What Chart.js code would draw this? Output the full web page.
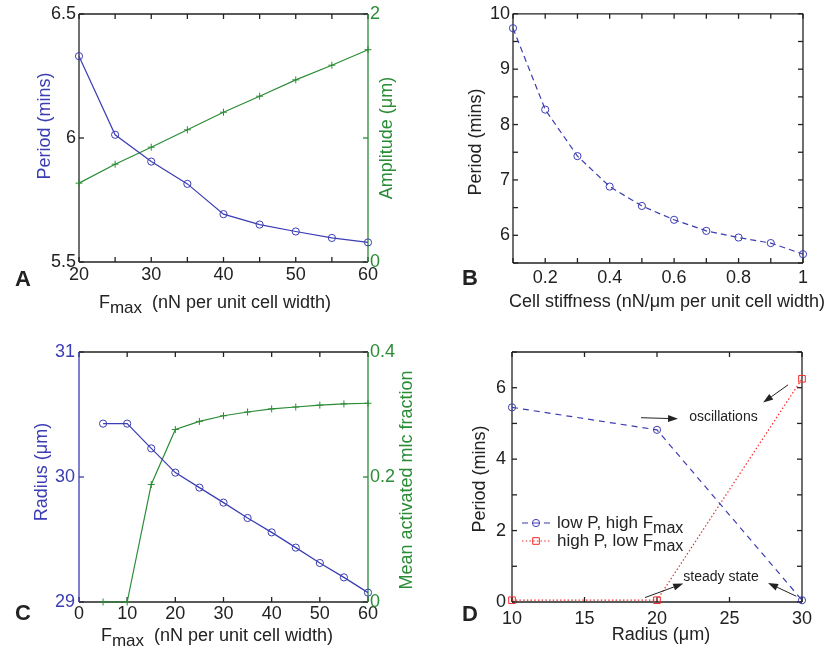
<!DOCTYPE html>
<html>
<head>
<meta charset="utf-8">
<script src="https://cdn.jsdelivr.net/npm/chart.js@4.4.0/dist/chart.umd.min.js"></script>
<style>
  html, body { margin: 0; padding: 0; background: #fff; }
  #fig { position: relative; width: 831px; height: 648px; }
  #fig canvas { position: absolute; left: 0; top: 0; }
</style>
</head>
<body>
<div id="fig">
  <canvas id="chartA" width="831" height="648"></canvas>
  <canvas id="chartB" width="831" height="648"></canvas>
  <canvas id="chartC" width="831" height="648"></canvas>
  <canvas id="chartD" width="831" height="648"></canvas>
</div>
<script>
// panel A: period & amplitude vs Fmax
const fmaxA = [20, 25, 30, 35, 40, 45, 50, 55, 60];
const periodA = [6.33, 6.013, 5.905, 5.815, 5.693, 5.651, 5.623, 5.597, 5.579];
const amplitudeA = [0.636, 0.789, 0.926, 1.066, 1.208, 1.337, 1.469, 1.587, 1.712];

// panel B: period vs cell stiffness
const stiffnessB = [0.1, 0.2, 0.3, 0.4, 0.5, 0.6, 0.7, 0.8, 0.9, 1.0];
const periodB = [9.74, 8.27, 7.43, 6.88, 6.53, 6.28, 6.08, 5.96, 5.86, 5.66];

// panel C: radius & mean activated mlc fraction vs Fmax
const fmaxC = [5, 10, 15, 20, 25, 30, 35, 40, 45, 50, 55, 60];
const radiusC = [30.427, 30.427, 30.229, 30.035, 29.915, 29.795, 29.672, 29.557, 29.435, 29.312, 29.197, 29.075];
const mlcC = [0, 0, 0.188, 0.276, 0.289, 0.298, 0.304, 0.309, 0.312, 0.315, 0.317, 0.318];

// panel D: period vs radius
const radiusD = [10, 20, 30];
const periodLowP = [5.45, 4.82, 0.05];
const periodHighP = [0.05, 0.05, 6.25];
const legendD = ['low P, high F', 'high P, low F'];

// annotations of panel D, in data units (tail x, tail y, head x, head y)
const arrowsD = [
  [18.9, 5.16, 21.45, 5.13],
  [29.04, 6.08, 27.32, 5.585],
  [19.17, 0.123, 21.81, 0.516],
  [29.61, 0.16, 27.66, 0.533]
];
const notesD = [
  { text: 'oscillations', x: 22.22, y: 5.08 },
  { text: 'steady state', x: 21.81, y: 0.59 }
];

const FONT = "'Liberation Sans', Arial, Helvetica, sans-serif";
const BLUE = '#3b3db2';
const GREEN = '#2b8c36';
const RED = '#f42a2a';
const INK = '#222222';
const W = 831, H = 648;

Chart.defaults.font.family = FONT;
Chart.defaults.font.size = 18;
Chart.defaults.color = INK;

const xy = (xs, ys) => xs.map((x, i) => ({ x: x, y: ys[i] }));
const num = v => String(Math.round(v * 100) / 100);

function series(xs, ys, color, extra) {
  return Object.assign({
    data: xy(xs, ys),
    borderColor: color,
    borderWidth: 1.2,
    pointStyle: 'circle',
    pointRadius: 3.6,
    pointBorderWidth: 1,
    pointBorderColor: color,
    pointBackgroundColor: 'rgba(0,0,0,0)',
    tension: 0,
    clip: false,
    yAxisID: 'y'
  }, extra || {});
}

// box + inward tick marks, matlab style
function framePlugin(f) {
  return {
    id: 'frame',
    beforeDatasetsDraw(chart) {
      const { ctx, chartArea: a, scales } = chart;
      const len = 5;
      const seg = (x1, y1, x2, y2, c) => {
        ctx.strokeStyle = c;
        ctx.beginPath();
        ctx.moveTo(x1, y1);
        ctx.lineTo(x2, y2);
        ctx.stroke();
      };
      ctx.save();
      ctx.lineWidth = 1.3;
      scales.x.ticks.forEach(t => {
        const px = scales.x.getPixelForValue(t.value);
        seg(px, a.bottom, px, a.bottom - len, f.bottom);
        seg(px, a.top, px, a.top + len, f.top);
      });
      scales.y.ticks.forEach(t => {
        const py = scales.y.getPixelForValue(t.value);
        seg(a.left, py, a.left + len, py, f.left);
      });
      const yr = scales[f.rightScale];
      yr.ticks.forEach(t => {
        const py = yr.getPixelForValue(t.value);
        seg(a.right, py, a.right - len, py, f.right);
      });
      seg(a.left, a.top, a.right, a.top, f.top);
      seg(a.left, a.bottom, a.right, a.bottom, f.bottom);
      seg(a.left, a.top, a.left, a.bottom, f.left);
      seg(a.right, a.top, a.right, a.bottom, f.right);
      ctx.restore();
    }
  };
}

// text with optional subscript pieces: parts = [[text, isSub], ...]
function drawRich(ctx, parts, x, y, size, color, align, bold) {
  const fontOf = sub => (bold ? 'bold ' : '') + (sub ? size - 1 : size) + 'px ' + FONT;
  let total = 0;
  parts.forEach(p => { ctx.font = fontOf(p[1]); total += ctx.measureText(p[0]).width; });
  let cx = align === 'center' ? x - total / 2 : x;
  ctx.fillStyle = color;
  ctx.textAlign = 'left';
  parts.forEach(p => {
    ctx.font = fontOf(p[1]);
    ctx.fillText(p[0], cx, p[1] ? y + 5 : y);
    cx += ctx.measureText(p[0]).width;
  });
}

function textPlugin(items, extra) {
  return {
    id: 'texts',
    afterDraw(chart) {
      const ctx = chart.ctx;
      ctx.save();
      items.forEach(it => {
        ctx.save();
        ctx.textBaseline = it.base || 'alphabetic';
        ctx.translate(it.x, it.y);
        if (it.rotate) ctx.rotate(-Math.PI / 2);
        drawRich(ctx, it.parts, 0, 0, it.size || 18, it.color || INK, it.align || 'center', it.bold);
        ctx.restore();
      });
      if (extra) extra(chart, ctx);
      ctx.restore();
    }
  };
}

function axis(o, fit) {
  return {
    type: 'linear',
    position: o.position,
    min: o.min,
    max: o.max,
    grid: { display: false, drawTicks: false },
    border: { display: false },
    ticks: {
      stepSize: o.step,
      autoSkip: false,
      maxRotation: 0,
      padding: o.pad,
      color: o.color || INK,
      font: { size: 18 },
      callback: o.label || num
    },
    afterFit: fit
  };
}

function build(id, area, spec) {
  const scales = {
    x: axis(Object.assign({ position: 'bottom' }, spec.x), s => { s.height = H - area.bottom; }),
    y: axis(Object.assign({ position: 'left' }, spec.y), s => { s.width = area.left; })
  };
  if (spec.y2) {
    scales.y2 = axis(Object.assign({ position: 'right' }, spec.y2), s => { s.width = W - area.right; });
  }
  return new Chart(document.getElementById(id), {
    type: 'line',
    data: { datasets: spec.datasets },
    options: {
      responsive: false,
      animation: false,
      devicePixelRatio: 1,
      events: [],
      layout: { padding: { left: 0, top: area.top, right: spec.y2 ? 0 : W - area.right, bottom: 0 } },
      plugins: { legend: { display: false }, tooltip: { enabled: false } },
      scales: scales
    },
    plugins: [framePlugin(spec.frame), textPlugin(spec.texts, spec.extra)]
  });
}

const fmaxTitle = [['F'], ['max', true], ['  (nN per unit cell width)']];

// ---- A
build('chartA', { left: 79, right: 368, top: 14, bottom: 262 }, {
  x: { min: 20, max: 60, step: 5, pad: 2, label: v => (v % 10 === 0 ? num(v) : '') },
  y: { min: 5.5, max: 6.5, step: 0.5, pad: 3 },
  y2: { min: 0, max: 2, step: 1, pad: 2, color: GREEN, label: v => (v === 1 ? '' : num(v)) },
  datasets: [
    series(fmaxA, periodA, BLUE),
    series(fmaxA, amplitudeA, GREEN, { pointStyle: 'cross', pointRadius: 3.5, yAxisID: 'y2' })
  ],
  frame: { top: INK, bottom: INK, left: INK, right: GREEN, rightScale: 'y2' },
  texts: [
    { parts: fmaxTitle, x: 215, y: 308 },
    { parts: [['Period (mins)']], x: 45, y: 126, rotate: true, base: 'middle', color: BLUE },
    { parts: [['Amplitude (\u03bcm)']], x: 387, y: 138, rotate: true, base: 'middle', color: GREEN },
    { parts: [['A']], x: 23, y: 280, base: 'middle', size: 22, bold: true }
  ]
});

// ---- B
build('chartB', { left: 513, right: 803, top: 13, bottom: 263 }, {
  x: { min: 0.1, max: 1, step: 0.1, pad: 4, label: v => (Math.round(v * 10) % 2 === 0 ? num(v) : '') },
  y: { min: 5.5, max: 10, step: 0.5, pad: 3, label: v => (v % 1 === 0 ? num(v) : '') },
  datasets: [
    series(stiffnessB, periodB, BLUE, { borderDash: [6, 4] })
  ],
  frame: { top: INK, bottom: INK, left: INK, right: INK, rightScale: 'y' },
  texts: [
    { parts: [['Cell stiffness (nN/\u03bcm per unit cell width)']], x: 667, y: 307 },
    { parts: [['Period (mins)']], x: 476, y: 142, rotate: true, base: 'middle' },
    { parts: [['B']], x: 470, y: 279, base: 'middle', size: 22, bold: true }
  ]
});

// ---- C
build('chartC', { left: 79, right: 368, top: 352, bottom: 602 }, {
  x: { min: 0, max: 60, step: 10, pad: 1 },
  y: { min: 29, max: 31, step: 1, pad: 4, color: BLUE },
  y2: { min: 0, max: 0.4, step: 0.2, pad: 2, color: GREEN },
  datasets: [
    series(fmaxC, radiusC, BLUE),
    series(fmaxC, mlcC, GREEN, { pointStyle: 'cross', pointRadius: 3.5, yAxisID: 'y2' })
  ],
  frame: { top: INK, bottom: INK, left: BLUE, right: GREEN, rightScale: 'y2' },
  texts: [
    { parts: fmaxTitle, x: 217, y: 641 },
    { parts: [['Radius (\u03bcm)']], x: 42, y: 472, rotate: true, base: 'middle', color: BLUE },
    { parts: [['Mean activated mlc fraction']], x: 407, y: 480, rotate: true, base: 'middle', color: GREEN },
    { parts: [['C']], x: 23, y: 614, base: 'middle', size: 22, bold: true }
  ]
});

// ---- D
function drawArrow(ctx, x1, y1, x2, y2) {
  const ang = Math.atan2(y2 - y1, x2 - x1);
  const hl = 10, hw = 3.5;
  ctx.strokeStyle = INK;
  ctx.fillStyle = INK;
  ctx.lineWidth = 1;
  ctx.beginPath();
  ctx.moveTo(x1, y1);
  ctx.lineTo(x2 - hl * Math.cos(ang), y2 - hl * Math.sin(ang));
  ctx.stroke();
  ctx.beginPath();
  ctx.moveTo(x2, y2);
  ctx.lineTo(x2 - hl * Math.cos(ang) + hw * Math.sin(ang), y2 - hl * Math.sin(ang) - hw * Math.cos(ang));
  ctx.lineTo(x2 - hl * Math.cos(ang) - hw * Math.sin(ang), y2 - hl * Math.sin(ang) + hw * Math.cos(ang));
  ctx.closePath();
  ctx.fill();
}

function extrasD(chart, ctx) {
  const sx = chart.scales.x, sy = chart.scales.y;
  arrowsD.forEach(a => drawArrow(ctx,
    sx.getPixelForValue(a[0]), sy.getPixelForValue(a[1]),
    sx.getPixelForValue(a[2]), sy.getPixelForValue(a[3])));
  ctx.textBaseline = 'alphabetic';
  notesD.forEach(n => drawRich(ctx, [[n.text]], sx.getPixelForValue(n.x), sy.getPixelForValue(n.y), 14, INK, 'left'));

  // legend
  const rows = [
    { y: 523, color: BLUE, dash: [6, 5], marker: 'circle' },
    { y: 541, color: RED, dash: [1.5, 2.2], marker: 'rect' }
  ];
  rows.forEach((r, i) => {
    ctx.save();
    ctx.strokeStyle = r.color;
    ctx.lineWidth = 1.2;
    ctx.setLineDash(r.dash);
    ctx.beginPath();
    ctx.moveTo(522, r.y);
    ctx.lineTo(550, r.y);
    ctx.stroke();
    ctx.restore();
    ctx.save();
    ctx.strokeStyle = r.color;
    ctx.lineWidth = 1;
    ctx.beginPath();
    if (r.marker === 'circle') ctx.arc(536, r.y, 3.6, 0, Math.PI * 2);
    else ctx.rect(532.7, r.y - 3.3, 6.6, 6.6);
    ctx.stroke();
    ctx.restore();
    ctx.textBaseline = 'alphabetic';
    drawRich(ctx, [[legendD[i]], ['max', true]], 557, r.y + 5, 17, INK, 'left');
  });
}

build('chartD', { left: 512, right: 802, top: 352, bottom: 602 }, {
  x: { min: 10, max: 30, step: 5, pad: 6 },
  y: { min: 0, max: 7, step: 1, pad: 6, label: v => (v % 2 === 0 ? num(v) : '') },
  datasets: [
    series(radiusD, periodLowP, BLUE, { borderDash: [6, 5] }),
    series(radiusD, periodHighP, RED, { borderDash: [1.5, 2.2], pointStyle: 'rect', pointRadius: 4.7 })
  ],
  frame: { top: INK, bottom: INK, left: INK, right: INK, rightScale: 'y' },
  texts: [
    { parts: [['Radius (\u03bcm)']], x: 661, y: 640 },
    { parts: [['Period (mins)']], x: 480, y: 479, rotate: true, base: 'middle' },
    { parts: [['D']], x: 470, y: 615, base: 'middle', size: 22, bold: true }
  ],
  extra: extrasD
});
</script>
</body>
</html>
